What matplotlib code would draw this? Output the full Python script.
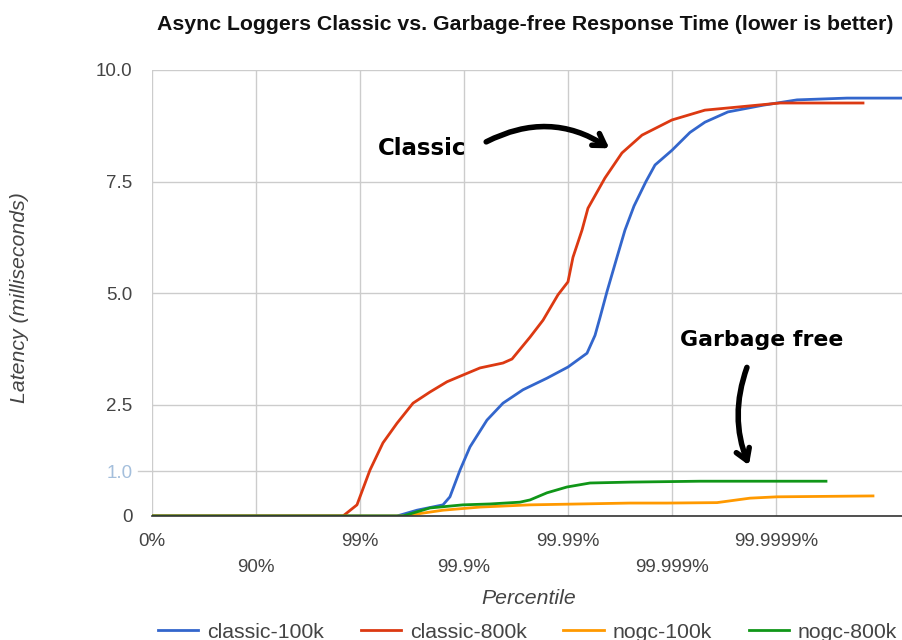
import matplotlib
matplotlib.use("Agg")
import matplotlib.pyplot as plt

# x values are in "nines": 0 -> 0%, 1 -> 90%, 2 -> 99%, 3 -> 99.9% ...
tick_pos = [0, 1, 2, 3, 4, 5, 6]
tick_lbl = ["0%", "90%", "99%", "99.9%", "99.99%", "99.999%", "99.9999%"]

classic100_x = [0, 2.356, 2.548, 2.798, 2.865, 2.962, 3.058, 3.221, 3.375, 3.567, 3.798, 4.0,
                4.183, 4.260, 4.308, 4.375, 4.471, 4.548, 4.635, 4.750, 4.837, 5.0, 5.173,
                5.317, 5.538, 5.875, 6.202, 6.683, 7.212]
classic100_y = [0, 0, 0.13, 0.25, 0.43, 1.03, 1.55, 2.15, 2.53, 2.83, 3.09, 3.34,
                3.65, 4.05, 4.45, 5.03, 5.8, 6.41, 6.95, 7.5, 7.87, 8.2, 8.6,
                8.83, 9.06, 9.21, 9.33, 9.37, 9.37]

classic800_x = [0, 1.837, 1.971, 2.096, 2.221, 2.356, 2.510, 2.673, 2.837, 2.990, 3.154, 3.375,
                3.462, 3.635, 3.760, 3.904, 4.0, 4.048, 4.135, 4.192, 4.356, 4.519, 4.712,
                5.0, 5.317, 5.635, 6.038, 6.837]
classic800_y = [0, 0, 0.25, 1.03, 1.64, 2.08, 2.53, 2.78, 3.01, 3.16, 3.32, 3.43,
                3.52, 4.01, 4.39, 4.96, 5.25, 5.8, 6.41, 6.9, 7.58, 8.14, 8.54,
                8.88, 9.1, 9.17, 9.26, 9.26]

nogc100_x = [0, 2.413, 2.798, 3.154, 3.635, 4.596, 4.952, 5.433, 5.750, 6.010, 6.933]
nogc100_y = [0, 0, 0.13, 0.2, 0.25, 0.29, 0.29, 0.30, 0.40, 0.43, 0.45]

nogc800_x = [0, 2.413, 2.673, 2.990, 3.250, 3.538, 3.635, 3.798, 3.990, 4.212, 4.596, 5.269, 6.481]
nogc800_y = [0, 0, 0.18, 0.25, 0.27, 0.31, 0.36, 0.52, 0.65, 0.74, 0.76, 0.78, 0.78]

yticks = [0, 1.0, 2.5, 5.0, 7.5, 10.0]
ylabels = ["0", "1.0", "2.5", "5.0", "7.5", "10.0"]

plt.rcParams['font.family'] = ['Liberation Sans', 'DejaVu Sans']

fig = plt.figure(figsize=(9.02, 6.4), dpi=100)
ax = fig.add_axes([152/902, 1-516/640, 750/902, 446/640])

lw = 2.0
ax.plot(classic100_x, classic100_y, color='#3366cc', lw=lw, label='classic-100k', zorder=3)
ax.plot(classic800_x, classic800_y, color='#dc3912', lw=lw, label='classic-800k', zorder=3)
ax.plot(nogc100_x, nogc100_y, color='#ff9900', lw=lw, label='nogc-100k', zorder=3)
ax.plot(nogc800_x, nogc800_y, color='#109618', lw=lw, label='nogc-800k', zorder=4)

ax.set_xlim(0, 7.212)
ax.set_ylim(0, 10)
for s in ['top', 'right', 'left']:
    ax.spines[s].set_visible(False)
ax.spines['bottom'].set_color('#333333')
ax.spines['bottom'].set_linewidth(1.2)
ax.spines['bottom'].set_zorder(5)

# alternating tick label rows
ax.set_xticks(tick_pos[0::2])
ax.set_xticklabels(tick_lbl[0::2])
ax.set_xticks(tick_pos[1::2], minor=True)
ax.set_xticklabels(tick_lbl[1::2], minor=True)
ax.tick_params(axis='x', which='major', length=0, pad=12, labelsize=13.5, labelcolor='#444444')
ax.tick_params(axis='x', which='minor', length=0, pad=31, labelsize=13.5, labelcolor='#444444')
ax.grid(True, which='both', axis='x', color='#cccccc', lw=1)

ax.set_yticks(yticks)
ax.set_yticklabels(ylabels)
ax.tick_params(axis='y', length=0, pad=14, labelsize=13.5, labelcolor='#444444')
ax.get_yticklabels()[1].set_color('#a4bfdc')
ax.grid(True, which='major', axis='y', color='#cccccc', lw=1)
ax.plot([-14/750, 0], [1.0, 1.0], color='#cccccc', lw=1, transform=ax.get_yaxis_transform(), clip_on=False)
ax.set_axisbelow(True)

fig.text(525/902, 1-25/640, "Async Loggers Classic vs. Garbage-free Response Time (lower is better)",
         ha='center', va='center', fontsize=15.3, fontweight='bold', color='#111111')
fig.text(20/902, 1-298/640, "Latency (milliseconds)", rotation=90, ha='center', va='center',
         fontsize=15.3, style='italic', color='#444444')
fig.text(529/902, 1-598/640, "Percentile", ha='center', va='center',
         fontsize=15.3, style='italic', color='#444444')

# hand drawn style annotations
ax.text(2.60, 8.25, "Classic", ha='center', va='center', fontsize=16.5, fontweight='bold',
        family='DejaVu Sans', color='black')
ax.text(5.865, 3.95, "Garbage free", ha='center', va='center', fontsize=15.8, fontweight='bold',
        family='DejaVu Sans', color='black')
ax.annotate("", xy=(4.42, 8.21), xytext=(3.19, 8.36),
            arrowprops=dict(arrowstyle='->, head_length=0.8, head_width=0.5', lw=4, color='black',
                            connectionstyle='arc3,rad=-0.3'))
ax.annotate("", xy=(5.75, 1.08), xytext=(5.73, 3.39),
            arrowprops=dict(arrowstyle='->, head_length=0.8, head_width=0.5', lw=4, color='black',
                            connectionstyle='arc3,rad=0.2'))

fig.legend(loc='center', bbox_to_anchor=(527.5/902, 1-632/640), ncol=4, frameon=False,
           fontsize=15.3, handlelength=1.9, handletextpad=0.42, columnspacing=1.72,
           labelcolor='#444444')

fig.savefig("out.png", dpi=100)
